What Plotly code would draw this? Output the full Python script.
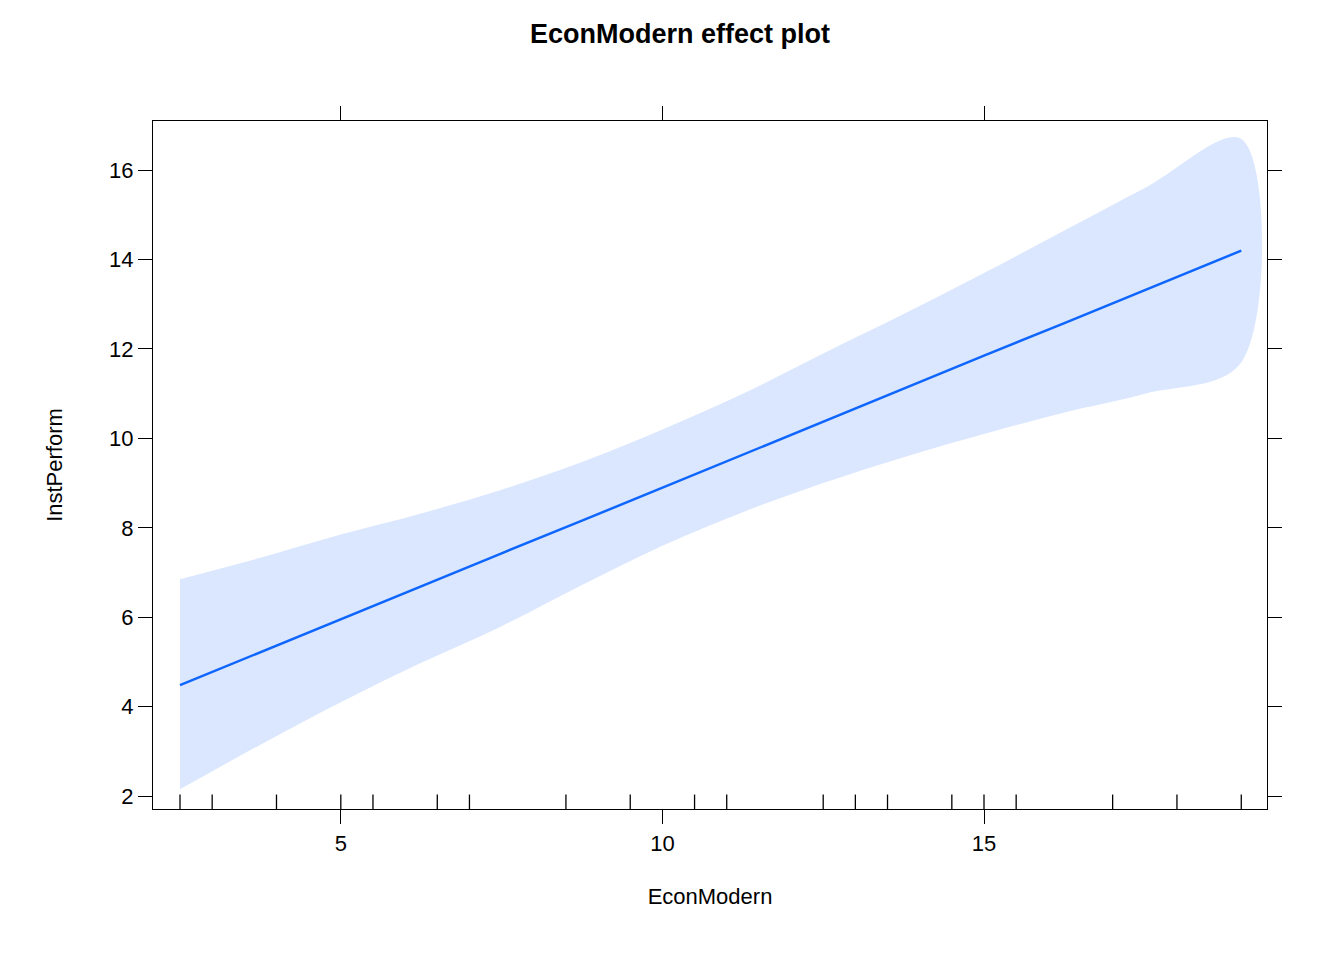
import plotly.graph_objects as go

# EconModern grid and fitted effect
econ = [2.5, 3.75, 5, 6.25, 7.5, 8.75, 10, 11.25, 12.5, 13.75, 15, 16.25, 17.5, 19]
fit = [4.48, 5.22, 5.95, 6.69, 7.43, 8.16, 8.90, 9.64, 10.37, 11.11, 11.85, 12.58, 13.32, 14.20]
lower = [2.15, 3.15, 4.10, 4.98, 5.80, 6.72, 7.60, 8.35, 9.00, 9.58, 10.10, 10.58, 11.00, 11.70]
upper = [6.85, 7.33, 7.85, 8.32, 8.85, 9.47, 10.20, 11.00, 11.90, 12.78, 13.70, 14.65, 15.60, 16.70]

# rug of observed EconModern values
rug = [2.5, 3, 4, 5, 5.5, 6.5, 7, 8.5, 9.5, 10.5, 11, 12.5, 13, 13.5, 14.5, 15, 15.5, 17, 18, 19]

fig = go.Figure()
fig.add_trace(go.Scatter(x=econ + econ[::-1], y=upper + lower[::-1], mode="lines", fill="toself",
                         fillcolor="rgba(204,221,255,0.7)", line=dict(width=0, shape="spline"),
                         hoverinfo="skip", showlegend=False))
fig.add_trace(go.Scatter(x=econ, y=fit, mode="lines",
                         line=dict(color="#0F66FF", width=2.5), showlegend=False))

for r in rug:
    fig.add_shape(type="line", xref="x", yref="paper", x0=r, x1=r, y0=0, y1=0.021,
                  line=dict(color="black", width=1.3))

axis = dict(showgrid=False, zeroline=False, showline=True, linecolor="black", linewidth=1.3,
            mirror="ticks", ticks="outside", ticklen=14, tickwidth=1.3, tickcolor="black",
            tickfont=dict(family="Liberation Sans, Arial", size=22, color="black"))

fig.update_layout(
    width=1344, height=960, plot_bgcolor="white", paper_bgcolor="white",
    margin=dict(l=145, r=85, t=113, b=159),
    title=dict(text="<b>EconModern effect plot</b>", x=0.5, xanchor="center", y=0.983,
               font=dict(family="Liberation Sans, Arial", size=27, color="black")),
    xaxis=dict(axis, range=[2.08, 19.4], tickvals=[5, 10, 15],
               title=dict(text="EconModern", standoff=34,
                          font=dict(family="Liberation Sans, Arial", size=22, color="black"))),
    yaxis=dict(axis, range=[1.71, 17.1], tickvals=[2, 4, 6, 8, 10, 12, 14, 16],
               title=dict(text="InstPerform", standoff=40,
                          font=dict(family="Liberation Sans, Arial", size=22, color="black"))),
)

fig.write_html("out.html")
